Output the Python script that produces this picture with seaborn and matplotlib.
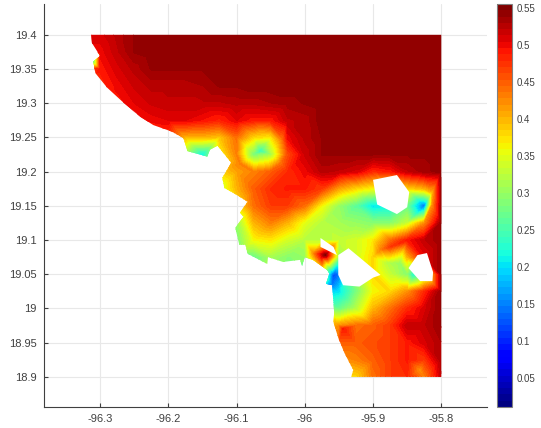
import numpy as np
import matplotlib
matplotlib.use("Agg")
import matplotlib.pyplot as plt
import matplotlib.tri as mtri
from matplotlib.patches import Polygon
import seaborn as sns

# Values on a 0.025 degree grid (cells off the map repeat the nearest edge)
grid_lon = [-96.325, -96.30, -96.275, -96.25, -96.225, -96.20, -96.175, -96.15, -96.125, -96.10, -96.075,
            -96.05, -96.025, -96.00, -95.975, -95.95, -95.925, -95.90, -95.875, -95.85, -95.825, -95.80]
grid_lat = [19.40, 19.375, 19.35, 19.325, 19.30, 19.275, 19.25, 19.225, 19.20, 19.175, 19.15,
            19.125, 19.10, 19.075, 19.05, 19.025, 19.00, 18.975, 18.95, 18.925, 18.90]
grid_vals = [
    [.50, .51, .525, .54, .545, .545, .545, .545, .545, .545, .545, .545, .545, .545, .545, .545, .545, .545, .545, .545, .545, .545],
    [.50, .50, .52, .54, .545, .545, .545, .545, .545, .545, .545, .545, .545, .545, .545, .545, .545, .545, .545, .545, .545, .545],
    [.45, .49, .51, .525, .54, .54, .54, .54, .545, .545, .545, .545, .545, .545, .545, .545, .545, .545, .545, .545, .545, .545],
    [.48, .48, .50, .515, .525, .525, .525, .53, .54, .54, .545, .545, .545, .545, .545, .545, .545, .545, .545, .545, .545, .545],
    [.48, .48, .49, .505, .515, .52, .52, .52, .52, .525, .525, .53, .535, .54, .545, .545, .545, .545, .545, .545, .545, .545],
    [.49, .49, .49, .49, .50, .505, .505, .495, .485, .505, .49, .49, .52, .525, .545, .545, .545, .545, .545, .545, .545, .545],
    [.47, .47, .47, .47, .47, .47, .40, .40, .39, .44, .38, .37, .50, .525, .54, .545, .545, .545, .545, .545, .545, .545],
    [.30, .30, .30, .30, .30, .30, .30, .21, .36, .43, .28, .31, .46, .515, .54, .54, .54, .54, .54, .54, .54, .545],
    [.38, .38, .38, .38, .38, .38, .38, .38, .38, .41, .43, .45, .48, .50, .525, .52, .51, .48, .49, .52, .535, .545],
    [.33, .33, .33, .33, .33, .33, .33, .33, .33, .40, .45, .48, .49, .49, .47, .41, .38, .36, .34, .38, .40, .54],
    [.37, .37, .37, .37, .37, .37, .37, .37, .37, .37, .44, .47, .47, .44, .36, .30, .26, .20, .21, .27, .14, .54],
    [.30, .30, .30, .30, .30, .30, .30, .30, .30, .30, .40, .43, .40, .35, .32, .31, .30, .29, .29, .33, .42, .54],
    [.28, .28, .28, .28, .28, .28, .28, .28, .28, .28, .36, .37, .34, .32, .32, .33, .34, .37, .44, .49, .52, .54],
    [.27, .27, .27, .27, .27, .27, .27, .27, .27, .27, .27, .31, .29, .30, .50, .30, .34, .38, .37, .40, .50, .54],
    [.28, .28, .28, .28, .28, .28, .28, .28, .28, .28, .28, .30, .28, .22, .33, .14, .30, .38, .33, .29, .30, .54],
    [.18, .18, .18, .18, .18, .18, .18, .18, .18, .18, .18, .18, .18, .18, .18, .20, .28, .36, .38, .42, .48, .54],
    [.30, .30, .30, .30, .30, .30, .30, .30, .30, .30, .30, .30, .30, .30, .30, .27, .32, .40, .44, .48, .51, .54],
    [.36, .36, .36, .36, .36, .36, .36, .36, .36, .36, .36, .36, .36, .36, .36, .42, .44, .45, .47, .52, .52, .54],
    [.45, .45, .45, .45, .45, .45, .45, .45, .45, .45, .45, .45, .45, .45, .45, .45, .45, .46, .47, .49, .51, .53],
    [.42, .42, .42, .42, .42, .42, .42, .42, .42, .42, .42, .42, .42, .42, .42, .42, .43, .45, .47, .49, .47, .53],
    [.38, .38, .38, .38, .38, .38, .38, .38, .38, .38, .38, .38, .38, .38, .38, .38, .38, .44, .47, .48, .43, .52],
]

# Extra readings around sharp local features
spot_lon = [-96.065, -95.970, -96.310, -95.988, -95.944, -95.813, -95.813, -95.831,
            -95.860, -95.879, -95.860, -95.841, -95.889, -95.856, -95.875, -95.958, -95.960,
            -96.065, -96.033, -96.035, -96.095]
spot_lat = [19.230, 19.078, 19.361, 19.081, 18.970, 19.152, 19.170, 18.910,
            19.037, 19.067, 19.067, 19.049, 19.086, 19.083, 19.090, 19.049, 19.036,
            19.262, 19.248, 19.212, 19.212]
spot_vals = [.235, .55, .27, .42, .49, .42, .40, .42,
             .36, .32, .30, .22, .43, .38, .47, .12, .14,
             .42, .44, .44, .43]

# Outline of the mapped area
outline_lon = [-96.313, -96.312, -96.300, -96.310, -96.307, -96.290, -96.266, -96.241,
               -96.222, -96.202, -96.194, -96.178, -96.172, -96.143, -96.139, -96.128,
               -96.108, -96.121, -96.118, -96.105, -96.084, -96.095, -96.090, -96.102,
               -96.096, -96.087, -96.084, -96.055, -96.054, -96.032, -96.007, -96.004,
               -96.000, -95.988, -95.967, -95.964, -95.969, -95.960, -95.958, -95.957,
               -95.958, -95.951, -95.942, -95.929, -95.932, -95.800, -95.800]
outline_lat = [19.400, 19.388, 19.369, 19.361, 19.344, 19.323, 19.301, 19.280,
               19.268, 19.261, 19.258, 19.249, 19.230, 19.222, 19.232, 19.238,
               19.213, 19.191, 19.176, 19.169, 19.156, 19.140, 19.134, 19.118,
               19.093, 19.093, 19.080, 19.065, 19.075, 19.068, 19.071, 19.062,
               19.075, 19.071, 19.056, 19.051, 19.036, 19.034, 19.008, 18.994,
               18.980, 18.957, 18.935, 18.910, 18.900, 18.900, 19.400]

# White gaps in the surface
hole_a_lon = [-95.900, -95.865, -95.847, -95.850, -95.865, -95.894]
hole_a_lat = [19.188, 19.195, 19.170, 19.148, 19.138, 19.152]
hole_b_lon = [-95.951, -95.936, -95.919, -95.889, -95.900, -95.920, -95.944, -95.951]
hole_b_lat = [19.078, 19.088, 19.074, 19.049, 19.045, 19.032, 19.034, 19.049]
hole_c_lon = [-95.848, -95.835, -95.821, -95.812, -95.813, -95.831]
hole_c_lat = [19.059, 19.078, 19.081, 19.053, 19.040, 19.040]
hole_d_lon = [-95.977, -95.958, -95.953, -95.963, -95.977]
hole_d_lat = [19.103, 19.090, 19.078, 19.083, 19.090]

x_ticks = [-96.3, -96.2, -96.1, -96, -95.9, -95.8]
x_labels = ["-96.3", "-96.2", "-96.1", "-96", "-95.9", "-95.8"]
y_ticks = [18.9, 18.95, 19, 19.05, 19.1, 19.15, 19.2, 19.25, 19.3, 19.35, 19.4]
y_labels = ["18.9", "18.95", "19", "19.05", "19.1", "19.15", "19.2", "19.25", "19.3", "19.35", "19.4"]
cbar_ticks = [.05, .1, .15, .2, .25, .3, .35, .4, .45, .5, .55]
cbar_labels = ["0.05", "0.1", "0.15", "0.2", "0.25", "0.3", "0.35", "0.4", "0.45", "0.5", "0.55"]

sns.set_style("whitegrid", {"grid.color": "#e8e8e8", "axes.edgecolor": "#404040"})
plt.rcParams["font.family"] = ["Liberation Sans", "DejaVu Sans"]

fig = plt.figure(figsize=(5.41, 4.28), dpi=100)
ax = fig.add_axes([43.5 / 541, 1 - 407 / 428, (487 - 43.5) / 541, (407 - 4) / 428])
cax = fig.add_axes([497 / 541, 1 - 407 / 428, 15 / 541, (407 - 4) / 428])

mesh_lon, mesh_lat = np.meshgrid(grid_lon, grid_lat)
lon = np.concatenate([mesh_lon.ravel(), spot_lon])
lat = np.concatenate([mesh_lat.ravel(), spot_lat])
vals = np.concatenate([np.ravel(grid_vals), spot_vals])

levels = np.linspace(0.011, 0.556, 65)
tri = mtri.Triangulation(lon, lat)
surface = ax.tricontourf(tri, vals, levels=levels, cmap=plt.get_cmap("jet", 64), zorder=2)
outline = Polygon(np.column_stack([outline_lon, outline_lat]), transform=ax.transData)
surface.set_clip_path(outline)

for hx, hy in [(hole_a_lon, hole_a_lat), (hole_b_lon, hole_b_lat),
               (hole_c_lon, hole_c_lat), (hole_d_lon, hole_d_lat)]:
    ax.fill(hx, hy, color="white", lw=0, zorder=3)

ax.set_xlim(-96.383, -95.733)
ax.set_ylim(18.856, 19.445)
ax.set_xticks(x_ticks, x_labels)
ax.set_yticks(y_ticks, y_labels)
ax.grid(True, lw=0.8)
ax.set_axisbelow(True)
ax.tick_params(direction="in", length=3, width=0.8, color="#404040", labelcolor="#404040",
               labelsize=8, left=True, bottom=True, pad=5)
sns.despine(ax=ax)

cbar = fig.colorbar(surface, cax=cax, drawedges=False)
cbar.set_ticks(cbar_ticks, labels=cbar_labels)
cbar.ax.tick_params(direction="in", length=3, width=0.8, color="#404040", labelcolor="#404040",
                    labelsize=7, pad=3)
cbar.outline.set_edgecolor("#808080")
cbar.outline.set_linewidth(0.8)
cbar.ax.grid(False)

fig.savefig("out.png", dpi=100)
